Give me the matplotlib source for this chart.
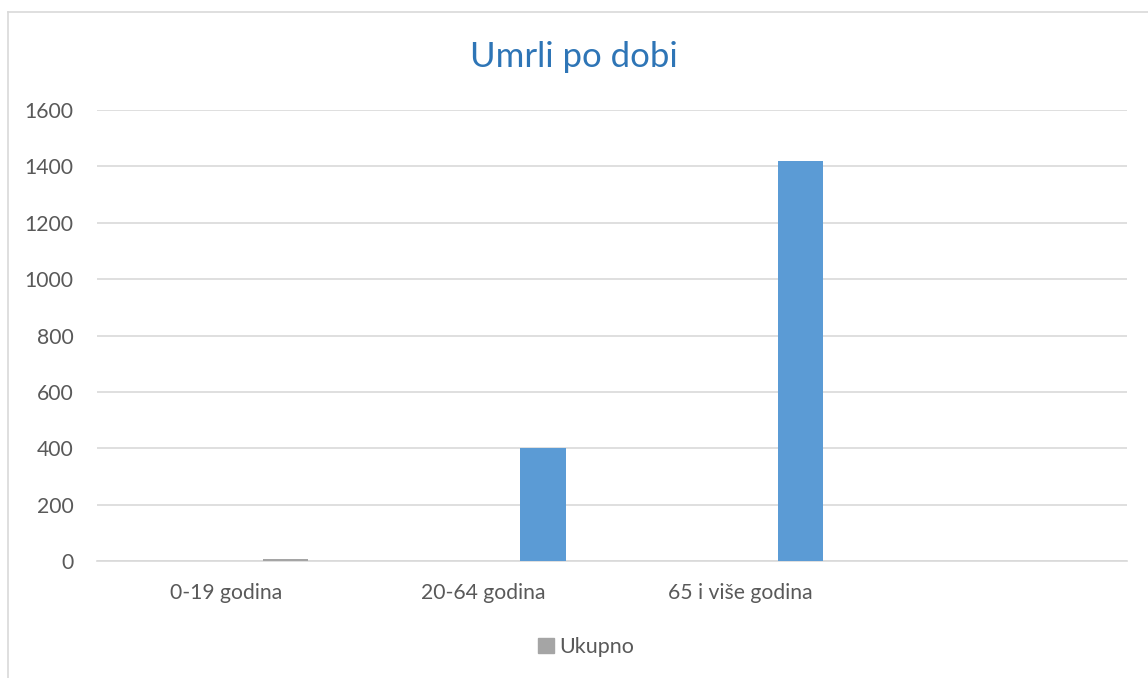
import matplotlib.pyplot as plt
from matplotlib.lines import Line2D
from matplotlib.patches import Patch

# podaci
categories = ["0-19 godina", "20-64 godina", "65 i više godina", ""]
values = [8, 401, 1420, 0]
bar_colors = ["#A5A5A5", "#5B9BD5", "#5B9BD5", "#5B9BD5"]
yticks = [0, 200, 400, 600, 800, 1000, 1200, 1400, 1600]

plt.rcParams['font.family'] = ['Lato', 'DejaVu Sans']

fig = plt.figure(figsize=(11.48, 6.78), dpi=100)
ax = fig.add_axes([97 / 1148, 1 - 561 / 678, 1030 / 1148, 451 / 678])

x = list(range(len(categories)))
xpos = [i + 0.232 for i in x]
ax.bar(xpos[:3], values[:3], width=0.178, color=bar_colors[:3], zorder=3)

ax.set_xlim(-0.5, len(categories) - 0.5)
ax.set_ylim(0, 1600)
ax.set_yticks(yticks)
ax.set_xticks(x)
ax.set_xticklabels(categories)
ax.yaxis.grid(True, color="#D9D9D9", linewidth=1.2, zorder=0)
for s in ["top", "right", "left"]:
    ax.spines[s].set_visible(False)
ax.spines["bottom"].set_color("#D9D9D9")
ax.spines["bottom"].set_linewidth(1.2)
ax.tick_params(axis="both", length=0, labelsize=15.2, colors="#595959")
ax.tick_params(axis="x", pad=16)
ax.tick_params(axis="y", pad=17)

fig.text(0.5, 1 - 57 / 678, "Umrli po dobi", ha="center", va="center",
         fontsize=25, color="#2E75B6")

handles = [Patch(color="#A5A5A5", label="Ukupno")]
fig.legend(handles=handles, loc="center", bbox_to_anchor=(586 / 1148, 1 - 647 / 678),
           frameon=False, fontsize=15.5, labelcolor="#595959",
           handlelength=0.75, handleheight=0.75, handletextpad=0.2)

# okvir grafikona
fig.add_artist(Line2D([8 / 1148, 8 / 1148], [0, 1 - 12 / 678], color="#D9D9D9", linewidth=1.2))
fig.add_artist(Line2D([8 / 1148, 1], [1 - 12 / 678, 1 - 12 / 678], color="#D9D9D9", linewidth=1.2))

fig.savefig("out.png", dpi=100)
